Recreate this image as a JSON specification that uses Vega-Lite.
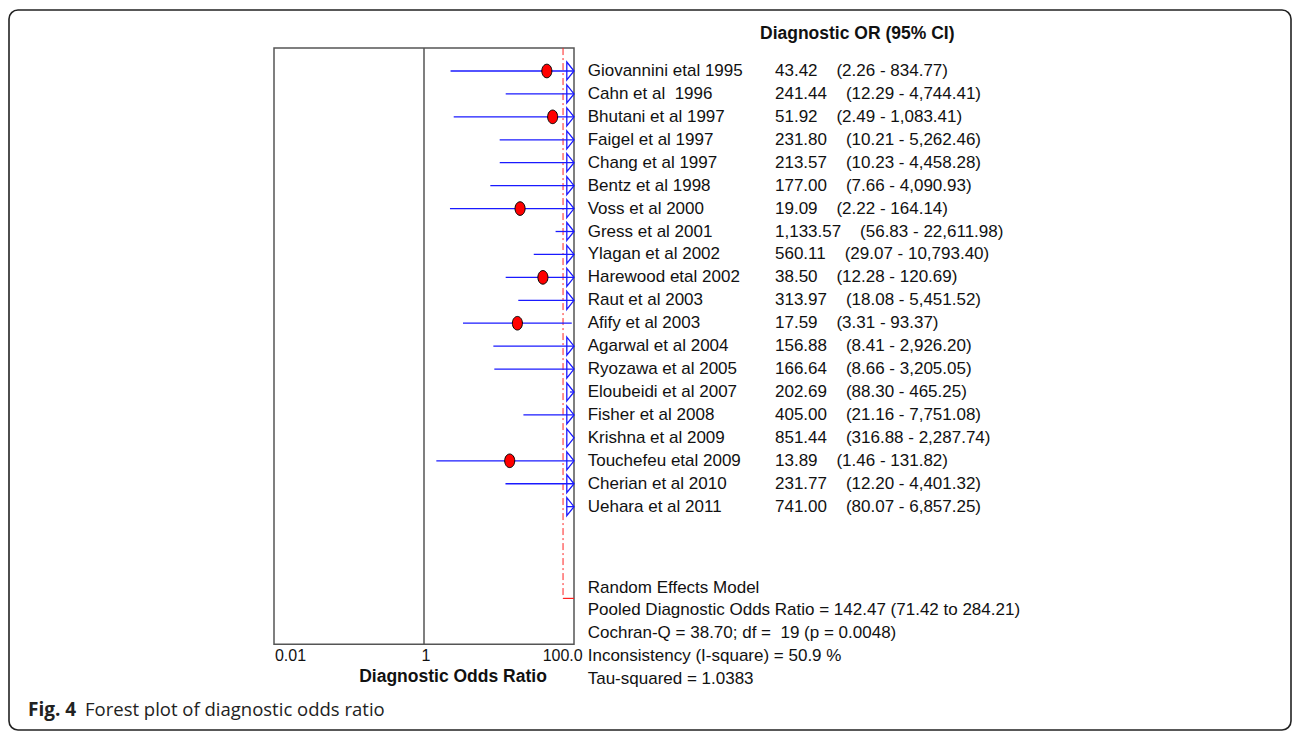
{
  "$schema": "https://vega.github.io/schema/vega-lite/v6.json",
  "width": 1282,
  "height": 720,
  "padding": {"left": 9, "top": 10, "right": 2, "bottom": 2},
  "autosize": {"type": "none"},
  "config": {
    "view": {"stroke": "#222", "strokeWidth": 1.6, "cornerRadius": 9},
    "axis": {"disable": true},
    "text": {"font": "Liberation Sans", "fontSize": 17, "color": "#111"}
  },
  "datasets": {
    "studies": [
      {"i": 1, "study": "Giovannini etal 1995", "or": 43.42, "lo": 2.26, "hi": 834.77},
      {"i": 2, "study": "Cahn et al \u00a01996", "or": 241.44, "lo": 12.29, "hi": 4744.41},
      {"i": 3, "study": "Bhutani et al 1997", "or": 51.92, "lo": 2.49, "hi": 1083.41},
      {"i": 4, "study": "Faigel et al 1997", "or": 231.80, "lo": 10.21, "hi": 5262.46},
      {"i": 5, "study": "Chang et al 1997", "or": 213.57, "lo": 10.23, "hi": 4458.28},
      {"i": 6, "study": "Bentz et al 1998", "or": 177.00, "lo": 7.66, "hi": 4090.93},
      {"i": 7, "study": "Voss et al 2000", "or": 19.09, "lo": 2.22, "hi": 164.14},
      {"i": 8, "study": "Gress et al 2001", "or": 1133.57, "lo": 56.83, "hi": 22611.98},
      {"i": 9, "study": "Ylagan et al 2002", "or": 560.11, "lo": 29.07, "hi": 10793.40},
      {"i": 10, "study": "Harewood etal 2002", "or": 38.50, "lo": 12.28, "hi": 120.69},
      {"i": 11, "study": "Raut et al 2003", "or": 313.97, "lo": 18.08, "hi": 5451.52},
      {"i": 12, "study": "Afify et al 2003", "or": 17.59, "lo": 3.31, "hi": 93.37},
      {"i": 13, "study": "Agarwal et al 2004", "or": 156.88, "lo": 8.41, "hi": 2926.20},
      {"i": 14, "study": "Ryozawa et al 2005", "or": 166.64, "lo": 8.66, "hi": 3205.05},
      {"i": 15, "study": "Eloubeidi et al 2007", "or": 202.69, "lo": 88.30, "hi": 465.25},
      {"i": 16, "study": "Fisher et al 2008", "or": 405.00, "lo": 21.16, "hi": 7751.08},
      {"i": 17, "study": "Krishna et al 2009", "or": 851.44, "lo": 316.88, "hi": 2287.74},
      {"i": 18, "study": "Touchefeu etal 2009", "or": 13.89, "lo": 1.46, "hi": 131.82},
      {"i": 19, "study": "Cherian et al 2010", "or": 231.77, "lo": 12.20, "hi": 4401.32},
      {"i": 20, "study": "Uehara et al 2011", "or": 741.00, "lo": 80.07, "hi": 6857.25}
    ],
    "pooled": [{"or": 142.47, "lo": 71.42, "hi": 284.21}],
    "one": [{}]
  },
  "data": {"name": "studies"},
  "resolve": {"scale": {"x": "independent"}},
  "layer": [
    {
      "layer": [
        {
          "data": {"name": "one"},
          "mark": {"type": "rect", "filled": false, "stroke": "#555", "strokeWidth": 1.5},
          "encoding": {
            "x": {"datum": 0.01, "type": "quantitative", "axis": null,
                  "scale": {"type": "log", "domain": [0.01, 100], "range": [265, 565], "nice": false, "clamp": true}},
            "x2": {"datum": 100},
            "y": {"datum": 0, "type": "quantitative", "axis": null,
                  "scale": {"domain": [-1.66, 29.74], "reverse": true, "nice": false, "zero": false}},
            "y2": {"datum": 26}
          }
        },
        {
          "data": {"name": "one"},
          "mark": {"type": "rule", "color": "#555", "strokeWidth": 1.5},
          "encoding": {
            "x": {"datum": 1, "type": "quantitative"},
            "y": {"datum": 0, "type": "quantitative"},
            "y2": {"datum": 26}
          }
        },
        {
          "data": {"name": "pooled"},
          "mark": {"type": "rule", "color": "#ff2020", "strokeWidth": 1, "strokeDash": [7, 3, 2, 3]},
          "encoding": {
            "x": {"field": "lo", "type": "quantitative"},
            "y": {"datum": 0, "type": "quantitative"},
            "y2": {"datum": 24}
          }
        },
        {
          "data": {"name": "pooled"},
          "mark": {"type": "rule", "color": "#ff2020", "strokeWidth": 1.2},
          "encoding": {
            "x": {"field": "lo", "type": "quantitative"},
            "x2": {"field": "hi"},
            "y": {"datum": 24, "type": "quantitative"}
          }
        },
        {
          "mark": {"type": "rule", "color": "#1a1aff", "strokeWidth": 1.3},
          "encoding": {
            "x": {"field": "lo", "type": "quantitative"},
            "x2": {"field": "hi"},
            "y": {"field": "i", "type": "quantitative"}
          }
        },
        {
          "transform": [{"filter": "datum.hi > 100"}],
          "mark": {"type": "point", "filled": false, "stroke": "#1a1aff", "strokeWidth": 1.3, "opacity": 1,
                   "shape": "M -0.8 -1 L 0 0 L -0.8 1 Z", "size": 324},
          "encoding": {
            "x": {"field": "hi", "type": "quantitative"},
            "y": {"field": "i", "type": "quantitative"}
          }
        },
        {
          "transform": [{"filter": "datum.or < 100"}],
          "mark": {"type": "point", "filled": true, "fill": "#ff0000", "stroke": "#000", "strokeWidth": 1, "opacity": 1,
                   "shape": "M -0.74 0 A 0.74 1 0 1 0 0.74 0 A 0.74 1 0 1 0 -0.74 0 Z", "size": 185},
          "encoding": {
            "x": {"field": "or", "type": "quantitative"},
            "y": {"field": "i", "type": "quantitative"}
          }
        }
      ]
    },
    {
      "layer": [
        {
          "mark": {"type": "text", "align": "left", "baseline": "middle"},
          "encoding": {
            "x": {"datum": 152.3, "type": "quantitative", "axis": null,
                  "scale": {"type": "log", "domain": [2.9286e-6, 3.6308e11], "nice": false}},
            "y": {"field": "i", "type": "quantitative"},
            "text": {"field": "study"}
          }
        },
        {
          "transform": [
            {"calculate": "format(datum.or, ',.2f') + '\u00a0\u00a0\u00a0\u00a0(' + format(datum.lo, ',.2f') + ' - ' + format(datum.hi, ',.2f') + ')'", "as": "label"}
          ],
          "mark": {"type": "text", "align": "left", "baseline": "middle"},
          "encoding": {
            "x": {"datum": 47863, "type": "quantitative"},
            "y": {"field": "i", "type": "quantitative"},
            "text": {"field": "label"}
          }
        },
        {
          "data": {"name": "one"},
          "mark": {"type": "text", "align": "left", "baseline": "middle", "fontWeight": "bold", "fontSize": 17.5},
          "encoding": {
            "x": {"datum": 30200, "type": "quantitative"},
            "y": {"datum": -0.6, "type": "quantitative"},
            "text": {"value": "Diagnostic OR (95% CI)"}
          }
        },
        {
          "data": {"name": "one"},
          "mark": {"type": "text", "align": "left", "baseline": "top", "lineHeight": 22.8},
          "encoding": {
            "x": {"datum": 152.3, "type": "quantitative"},
            "y": {"datum": 23.18, "type": "quantitative"},
            "text": {"value": [
              "Random Effects Model",
              "Pooled Diagnostic Odds Ratio = 142.47 (71.42 to 284.21)",
              "Cochran-Q = 38.70; df = \u00a019 (p = 0.0048)",
              "Inconsistency (I-square) = 50.9 %",
              "Tau-squared = 1.0383"
            ]}
          }
        },
        {
          "data": {"name": "one"},
          "mark": {"type": "text", "align": "left", "baseline": "middle", "fontSize": 16},
          "encoding": {
            "x": {"datum": 0.0103, "type": "quantitative"},
            "y": {"datum": 26.5, "type": "quantitative"},
            "text": {"value": "0.01"}
          }
        },
        {
          "data": {"name": "one"},
          "mark": {"type": "text", "align": "center", "baseline": "middle", "fontSize": 16, "dx": 2},
          "encoding": {
            "x": {"datum": 1, "type": "quantitative"},
            "y": {"datum": 26.5, "type": "quantitative"},
            "text": {"value": "1"}
          }
        },
        {
          "data": {"name": "one"},
          "mark": {"type": "text", "align": "right", "baseline": "middle", "fontSize": 16},
          "encoding": {
            "x": {"datum": 130.6, "type": "quantitative"},
            "y": {"datum": 26.5, "type": "quantitative"},
            "text": {"value": "100.0"}
          }
        },
        {
          "data": {"name": "one"},
          "mark": {"type": "text", "align": "center", "baseline": "middle", "fontWeight": "bold", "fontSize": 17.5},
          "encoding": {
            "x": {"datum": 2.436, "type": "quantitative"},
            "y": {"datum": 27.41, "type": "quantitative"},
            "text": {"value": "Diagnostic Odds Ratio"}
          }
        },
        {
          "data": {"name": "one"},
          "mark": {"type": "text", "align": "left", "baseline": "middle", "font": "Open Sans", "fontWeight": "bold", "fontSize": 19, "color": "#222"},
          "encoding": {
            "x": {"datum": 5.248e-6, "type": "quantitative"},
            "y": {"datum": 28.86, "type": "quantitative"},
            "text": {"value": "Fig. 4"}
          }
        },
        {
          "data": {"name": "one"},
          "mark": {"type": "text", "align": "left", "baseline": "middle", "font": "Open Sans", "fontSize": 18.5, "color": "#222"},
          "encoding": {
            "x": {"datum": 3.02e-5, "type": "quantitative"},
            "y": {"datum": 28.86, "type": "quantitative"},
            "text": {"value": "Forest plot of diagnostic odds ratio"}
          }
        }
      ]
    }
  ]
}
